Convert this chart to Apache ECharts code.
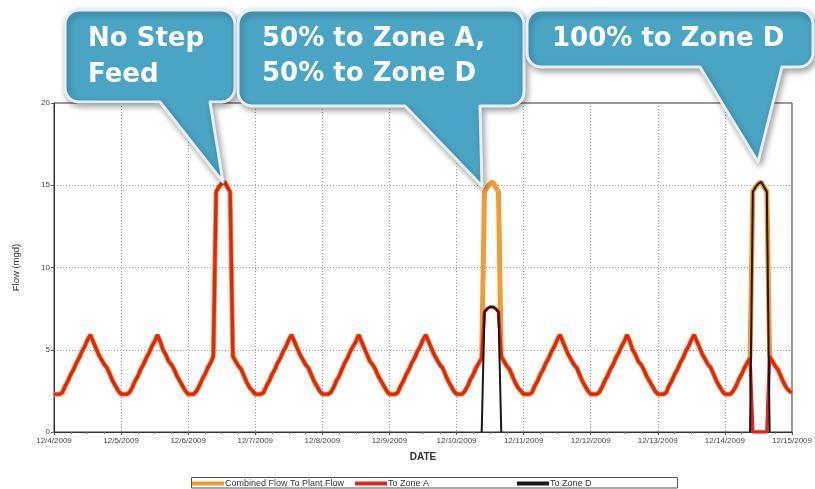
<!DOCTYPE html>
<html>
<head>
<meta charset="utf-8">
<script src="https://cdn.jsdelivr.net/npm/echarts@6/dist/echarts.min.js"></script>
<style>html,body{margin:0;padding:0;background:#fff}#c{width:815px;height:489px}</style>
</head>
<body>
<div id="c"></div>
<script>
// Tick labels (one per day, hour 0)
const dateLabels = ['12/4/2009','12/5/2009','12/6/2009','12/7/2009','12/8/2009','12/9/2009','12/10/2009','12/11/2009','12/12/2009','12/13/2009','12/14/2009','12/15/2009'];
const yTicks = [0, 5, 10, 15, 20];

// Combined Flow To Plant Flow (mgd), hourly from 12/4/2009 00:00
const combinedFlow = [
  2.3,2.3,2.3,2.4,2.8,3.1,3.5,3.8,4.2,4.5,4.9,5.2,5.6,5.9,5.5,5.1,4.7,4.4,4.1,3.9,3.5,3.1,2.8,2.5,   // 12/4
  2.3,2.3,2.3,2.4,2.7,3.1,3.4,3.8,4.1,4.5,4.8,5.2,5.5,5.9,5.5,5.0,4.7,4.3,4.1,3.8,3.4,3.1,2.8,2.5,   // 12/5
  2.3,2.3,2.3,2.5,2.8,3.2,3.5,3.9,4.2,4.6,14.6,14.9,15.1,15.2,14.9,14.6,4.6,4.3,4.0,3.8,3.4,3.0,2.7,2.5, // 12/6
  2.3,2.3,2.3,2.4,2.8,3.1,3.5,3.8,4.2,4.5,4.9,5.2,5.6,5.9,5.5,5.1,4.7,4.4,4.1,3.9,3.5,3.1,2.8,2.5,   // 12/7
  2.3,2.3,2.3,2.4,2.7,3.1,3.4,3.8,4.2,4.5,4.9,5.2,5.5,5.9,5.5,5.1,4.7,4.3,4.1,3.8,3.4,3.1,2.8,2.5,   // 12/8
  2.3,2.3,2.3,2.4,2.8,3.1,3.5,3.8,4.2,4.5,4.9,5.2,5.6,5.9,5.5,5.1,4.7,4.4,4.1,3.9,3.5,3.1,2.8,2.5,   // 12/9
  2.3,2.3,2.3,2.5,2.8,3.2,3.5,3.9,4.2,4.5,14.6,14.9,15.1,15.2,14.9,14.6,4.6,4.3,4.0,3.8,3.4,3.0,2.7,2.5, // 12/10
  2.3,2.3,2.3,2.4,2.8,3.1,3.5,3.8,4.2,4.5,4.9,5.2,5.6,5.9,5.5,5.1,4.7,4.4,4.1,3.9,3.5,3.1,2.8,2.5,   // 12/11
  2.3,2.3,2.3,2.4,2.7,3.1,3.4,3.8,4.1,4.5,4.8,5.2,5.5,5.9,5.5,5.0,4.7,4.3,4.1,3.8,3.4,3.1,2.8,2.5,   // 12/12
  2.3,2.3,2.3,2.4,2.8,3.1,3.5,3.8,4.2,4.5,4.9,5.2,5.6,5.9,5.5,5.1,4.7,4.4,4.1,3.9,3.5,3.1,2.8,2.5,   // 12/13
  2.3,2.3,2.3,2.5,2.8,3.2,3.5,3.9,4.2,4.5,14.6,14.9,15.1,15.2,14.9,14.6,4.6,4.3,4.0,3.8,3.4,3.0,2.7,2.5, // 12/14
  2.4                                                                                                  // 12/15 00:00
];

// Step-feed periods: hours 9..16 of 12/10 (index 153) and 12/14 (index 249)
const stepStart1210 = 153;
const stepStart1214 = 249;
const zoneA_1210 = [4.5, 7.3, 7.5, 7.6, 7.6, 7.5, 7.3, 4.6];
const zoneD_1210 = [0, 7.3, 7.5, 7.6, 7.6, 7.5, 7.3, 0];
const zoneA_1214 = [4.5, 0, 0, 0, 0, 0, 0, 4.6];
const zoneD_1214 = [0, 14.6, 14.9, 15.1, 15.2, 14.9, 14.6, 0];

// Build series tables
const zoneA = combinedFlow.slice();
const zoneD = combinedFlow.map(() => null);
zoneA_1210.forEach((v, i) => { zoneA[stepStart1210 + i] = v; });
zoneD_1210.forEach((v, i) => { zoneD[stepStart1210 + i] = v; });
zoneA_1214.forEach((v, i) => { zoneA[stepStart1214 + i] = v; });
zoneD_1214.forEach((v, i) => { zoneD[stepStart1214 + i] = v; });
const toPairs = arr => arr.map((v, i) => [i, v]);

const chart = echarts.init(document.getElementById('c'), null, {renderer: 'canvas'});

// Speech-bubble outline as polygon points (rounded rect + tail)
function arcPts(cx, cy, r, a0, a1) {
  const pts = [];
  const n = 6;
  for (let k = 0; k <= n; k++) {
    const a = a0 + (a1 - a0) * k / n;
    pts.push([cx + r * Math.cos(a), cy + r * Math.sin(a)]);
  }
  return pts;
}
function bubblePts(x1, y1, x2, y2, r, tb1, tb2, tx, ty) {
  const P = Math.PI;
  let pts = [];
  pts = pts.concat(arcPts(x1 + r, y1 + r, r, P, 1.5 * P));
  pts = pts.concat(arcPts(x2 - r, y1 + r, r, 1.5 * P, 2 * P));
  pts = pts.concat(arcPts(x2 - r, y2 - r, r, 0, 0.5 * P));
  pts.push([tb2, y2], [tx, ty], [tb1, y2]);
  pts = pts.concat(arcPts(x1 + r, y2 - r, r, 0.5 * P, P));
  return pts;
}
const bubbleStyle = {
  fill: '#4AA5C4', stroke: '#E6F0F4', lineWidth: 3, lineJoin: 'round',
  shadowBlur: 6, shadowColor: 'rgba(0,0,0,0.35)', shadowOffsetX: 2, shadowOffsetY: 3
};
const bubbleFont = 'bold 26px "DejaVu Sans"';
function txt(x, y, s) {
  return {type: 'text', z: 110, x: x, y: y,
    style: {text: s, fill: '#fff', font: bubbleFont, textVerticalAlign: 'top'}};
}
function bubble(args) {
  return {type: 'polygon', z: 100, shape: {points: bubblePts.apply(null, args)}, style: bubbleStyle};
}

const legendNames = ['Combined Flow To Plant Flow', 'To Zone A', 'To Zone D'];
const legendLeft = [192, 355, 517];

const option = {
  animation: false,
  backgroundColor: '#fff',
  grid: {left: 54, right: 21, top: 103, bottom: 57, show: true, borderColor: '#333', borderWidth: 1, backgroundColor: 'transparent'},
  xAxis: {
    type: 'value', min: 0, max: 264, interval: 24,
    name: 'DATE', nameLocation: 'middle', nameGap: 20,
    nameTextStyle: {fontFamily: 'Liberation Sans', fontWeight: 'bold', fontSize: 10, color: '#333'},
    axisLine: {show: true, lineStyle: {color: '#333', width: 1}},
    axisTick: {show: true, length: 3, lineStyle: {color: '#555'}},
    minorTick: {show: true, splitNumber: 4, length: 2, lineStyle: {color: '#777'}},
    axisLabel: {fontFamily: 'Liberation Sans', fontSize: 8, color: '#444', margin: 5,
      formatter: v => dateLabels[Math.round(v / 24)]},
    splitLine: {show: true, lineStyle: {color: '#999', type: [1, 2], width: 1}}
  },
  yAxis: {
    type: 'value', min: yTicks[0], max: yTicks[yTicks.length - 1], interval: 5,
    name: 'Flow (mgd)', nameLocation: 'middle', nameGap: 33,
    nameTextStyle: {fontFamily: 'Liberation Sans', fontSize: 9.5, color: '#333'},
    axisLine: {show: true, lineStyle: {color: '#333', width: 1}},
    axisTick: {show: true, length: 3, lineStyle: {color: '#555'}},
    axisLabel: {fontFamily: 'Liberation Sans', fontSize: 8, color: '#444', margin: 4},
    splitLine: {show: true, lineStyle: {color: '#999', type: [1, 2], width: 1}}
  },
  legend: legendNames.map((n, i) => ({
    left: legendLeft[i], top: 478, padding: [1, 0, 1, 0],
    icon: 'rect', itemWidth: 32, itemHeight: 4, itemGap: 0,
    textStyle: {fontFamily: 'Liberation Sans', fontSize: 9, color: '#333', padding: [0, 0, 0, -4]},
    data: [n]
  })),
  series: [
    {name: legendNames[0], type: 'line', data: toPairs(combinedFlow), showSymbol: false,
      lineStyle: {color: '#F39A30', width: 5}, itemStyle: {color: '#F39A30'}, z: 2},
    {name: legendNames[1], type: 'line', data: toPairs(zoneA), showSymbol: false,
      lineStyle: {color: '#E1251B', width: 3.4}, itemStyle: {color: '#E1251B'}, z: 3},
    {name: legendNames[2], type: 'line', data: toPairs(zoneD), showSymbol: false, connectNulls: false,
      lineStyle: {color: '#1E1414', width: 2}, itemStyle: {color: '#1E1414'}, z: 4}
  ],
  graphic: [
    {type: 'rect', z: 50, shape: {x: 191.5, y: 477.5, width: 486, height: 10.5}, style: {fill: 'none', stroke: '#555', lineWidth: 1}},
    bubble([65, 10, 235, 102, 14, 160, 210, 223, 182]),
    bubble([238, 10, 524, 106, 14, 405, 480, 482, 186]),
    bubble([527, 10, 813, 67, 14, 700, 782, 758, 162]),
    txt(88, 26, 'No Step'),
    txt(88, 62, 'Feed'),
    txt(262, 26, '50% to Zone A,'),
    txt(262, 61, '50% to Zone D'),
    txt(552, 26, '100% to Zone D')
  ]
};
chart.setOption(option);
</script>
</body>
</html>
